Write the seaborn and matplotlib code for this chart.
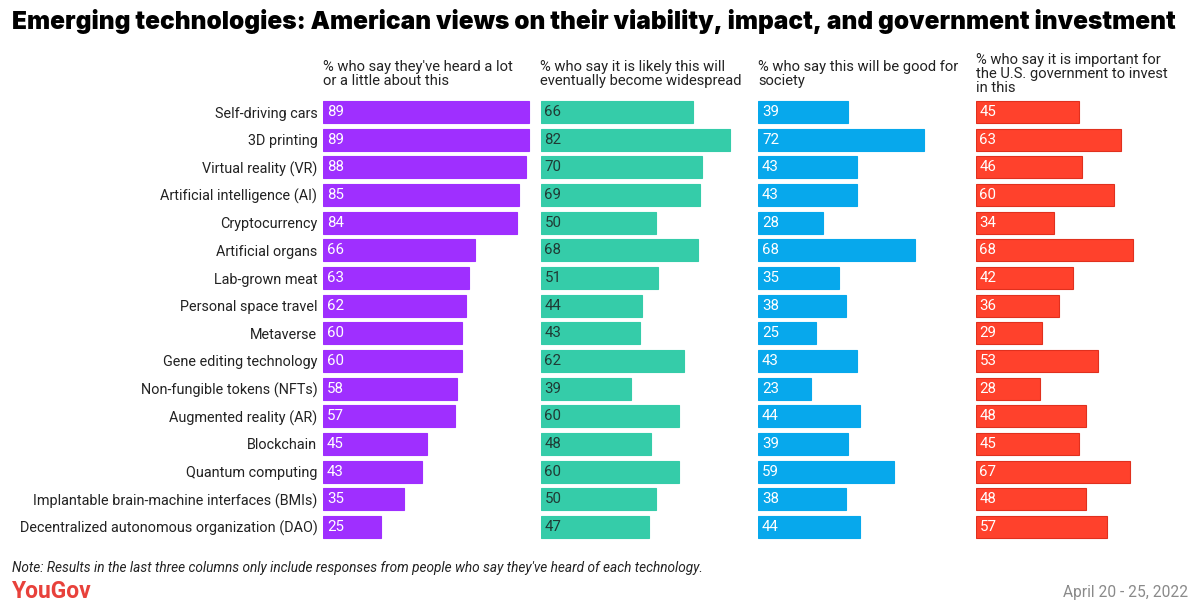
import matplotlib
matplotlib.use("Agg")
import matplotlib.pyplot as plt
import pandas as pd
import seaborn as sns

# Data
technologies = [
    "Self-driving cars", "3D printing", "Virtual reality (VR)",
    "Artificial intelligence (AI)", "Cryptocurrency", "Artificial organs",
    "Lab-grown meat", "Personal space travel", "Metaverse",
    "Gene editing technology", "Non-fungible tokens (NFTs)",
    "Augmented reality (AR)", "Blockchain", "Quantum computing",
    "Implantable brain-machine interfaces (BMIs)",
    "Decentralized autonomous organization (DAO)",
]
heard = [89, 89, 88, 85, 84, 66, 63, 62, 60, 60, 58, 57, 45, 43, 35, 25]
widespread = [66, 82, 70, 69, 50, 68, 51, 44, 43, 62, 39, 60, 48, 60, 50, 47]
good_for_society = [39, 72, 43, 43, 28, 68, 35, 38, 25, 43, 23, 44, 39, 59, 38, 44]
gov_invest = [45, 63, 46, 60, 34, 68, 42, 36, 29, 53, 28, 48, 45, 67, 48, 57]

headers = [
    "% who say they've heard a lot\nor a little about this",
    "% who say it is likely this will\neventually become widespread",
    "% who say this will be good for\nsociety",
    "% who say it is important for\nthe U.S. government to invest\nin this",
]
colors = ["#9f2fff", "#35cca9", "#07a8ec", "#ff412c"]
label_colors = ["white", "#1f3b35", "white", "white"]

df = pd.DataFrame({
    "tech": technologies,
    "heard": heard,
    "widespread": widespread,
    "good": good_for_society,
    "invest": gov_invest,
})
columns = ["heard", "widespread", "good", "invest"]

sns.set_style("white")
plt.rcParams["font.family"] = ["Roboto", "DejaVu Sans"]

fig = plt.figure(figsize=(12, 6.14), dpi=100)

W, H = 1200, 614
left0 = 323
col_step = 217.5
ax_w = 217
top_px, bot_px = 98.2, 540.8

for i, col in enumerate(columns):
    x0 = left0 + i * col_step
    ax = fig.add_axes([x0 / W, 1 - bot_px / H, ax_w / W, (bot_px - top_px) / H])
    sns.barplot(data=df, y="tech", x=col, orient="h", color=colors[i],
                width=0.8, ax=ax, saturation=1,
                edgecolor="#e0301e" if i == 3 else colors[i], linewidth=0.8)
    ax.set_xlim(0, ax_w / 2.31)
    ax.set_xlabel("")
    ax.set_ylabel("")
    ax.set_xticks([])
    for s in ax.spines.values():
        s.set_visible(False)
    if i == 0:
        ax.tick_params(axis="y", length=0, pad=4, labelsize=10.4, labelcolor="#222222")
    else:
        ax.set_yticks([])
    for j, v in enumerate(df[col]):
        ax.text(1.7, j, str(v), va="center", ha="left", fontsize=10.8,
                color=label_colors[i])
    # headers are vertically centred above each column
    fig.text(x0 / W, 1 - 74 / H, headers[i], ha="left", va="center",
             fontsize=10.6, color="#222222", linespacing=1.0)

fig.text(12 / W, 1 - 22 / H,
         "Emerging technologies: American views on their viability, impact, and government investment",
         ha="left", va="center", fontsize=17.6, fontweight="black", color="black",
         family=["Inter", "DejaVu Sans"])
fig.text(12 / W, 1 - 568 / H,
         "Note: Results in the last three columns only include responses from people who say they've heard of each technology.",
         ha="left", va="center", fontsize=9.8, style="italic", color="#222222")
fig.text(12 / W, 1 - 592 / H, "YouGov", ha="left", va="center",
         fontsize=16.5, fontweight="bold", color="#e8413b")
fig.text(1188 / W, 1 - 592 / H, "April 20 - 25, 2022", ha="right", va="center",
         fontsize=11.2, color="#8a8a8a")

fig.savefig("out.png", dpi=100)
